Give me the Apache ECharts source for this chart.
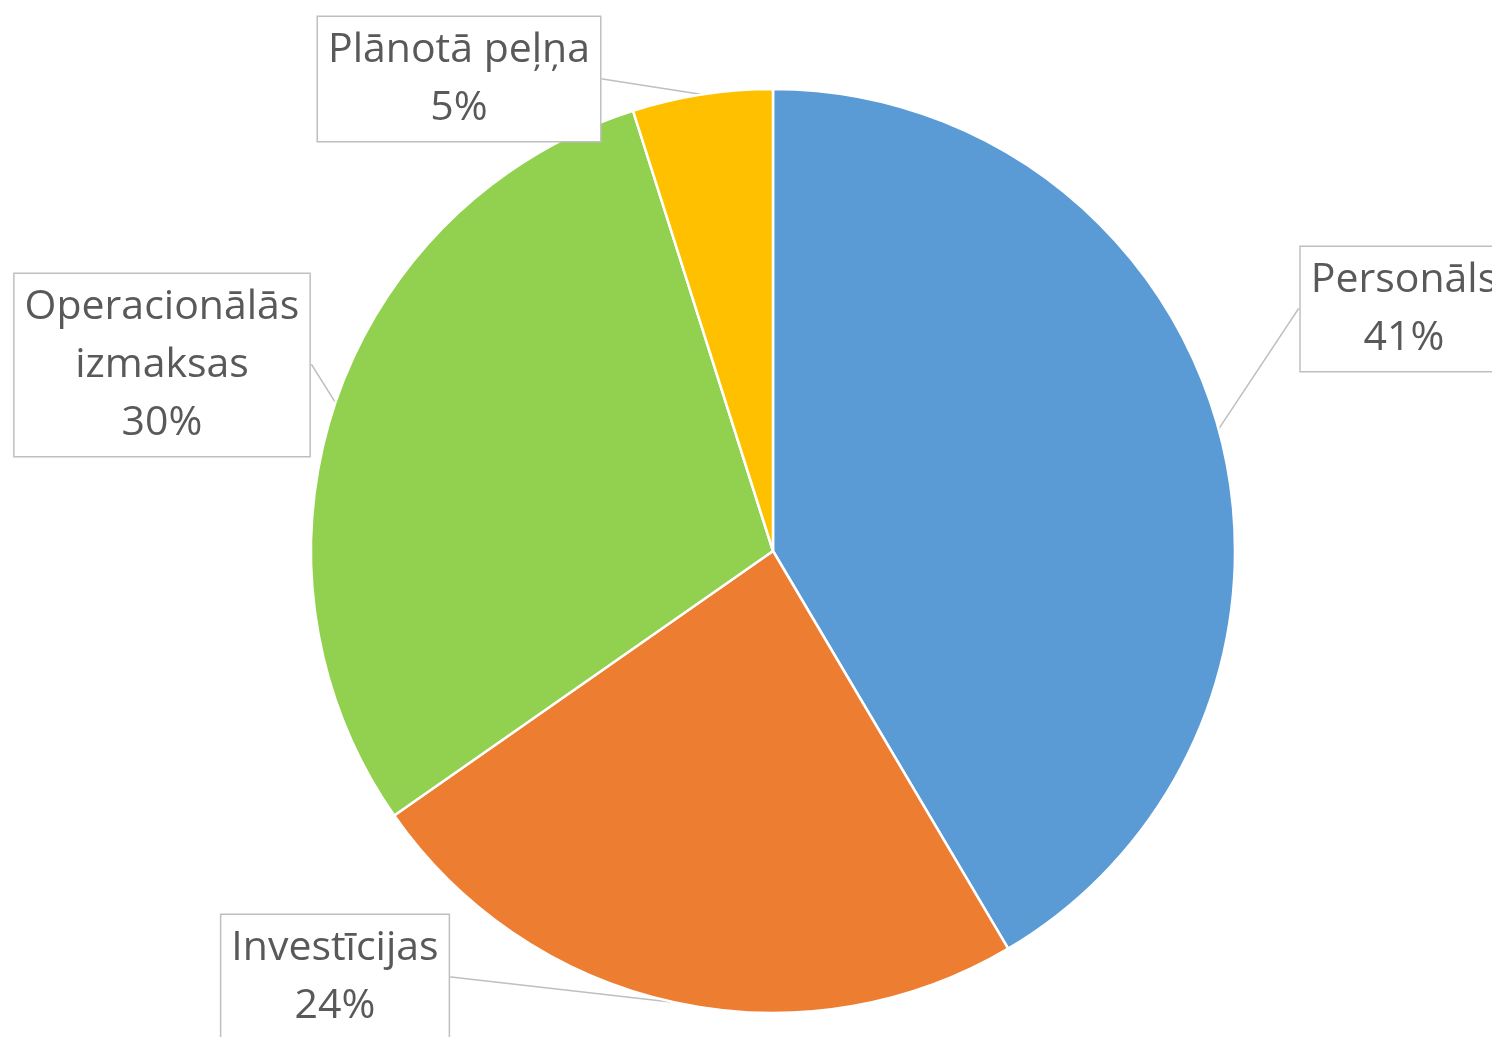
<!DOCTYPE html>
<html>
<head>
<meta charset="utf-8">
<script src="https://cdn.jsdelivr.net/npm/echarts@6/dist/echarts.min.js"></script>
<style>
html,body{margin:0;padding:0;background:#fff;}
#c{width:1492px;height:1037px;}
</style>
</head>
<body>
<div id="c"></div>
<script>
const categories = ['Personāls', 'Investīcijas', 'Operacionālās\nizmaksas', 'Plānotā peļņa'];
const values = [41.5, 23.8, 29.8, 4.9];
const colors = ['#5B9BD5', '#ED7D31', '#92D050', '#FFC000'];

const labelCenters = [[1404, 309], [335, 977], [162, 365], [459, 79]];

const chart = echarts.init(document.getElementById('c'));
chart.setOption({
  backgroundColor: '#ffffff',
  animation: false,
  series: [{
    type: 'pie',
    center: [773, 551],
    radius: 462,
    startAngle: 90,
    clockwise: true,
    avoidLabelOverlap: false,
    percentPrecision: 0,
    data: categories.map((c, i) => ({name: c, value: values[i], itemStyle: {color: colors[i]}})),
    itemStyle: {borderColor: '#ffffff', borderWidth: 2.5},
    label: {
      show: true,
      position: 'outside',
      formatter: '{b}\n{d}%',
      fontFamily: 'Open Sans',
      fontSize: 41,
      lineHeight: 58,
      color: '#595959',
      align: 'center',
      backgroundColor: '#ffffff',
      borderColor: '#BFBFBF',
      borderWidth: 1.5,
      padding: [8, 10, 0, 10]
    },
    labelLine: {
      show: true,
      length: 1,
      length2: 1,
      lineStyle: {color: '#BFBFBF', width: 1.5}
    },
    labelLayout: function (p) {
      const c = labelCenters[p.dataIndex];
      return {x: c[0], y: c[1], align: 'center', verticalAlign: 'middle'};
    },
    emphasis: {disabled: true}
  }]
});
</script>
</body>
</html>
